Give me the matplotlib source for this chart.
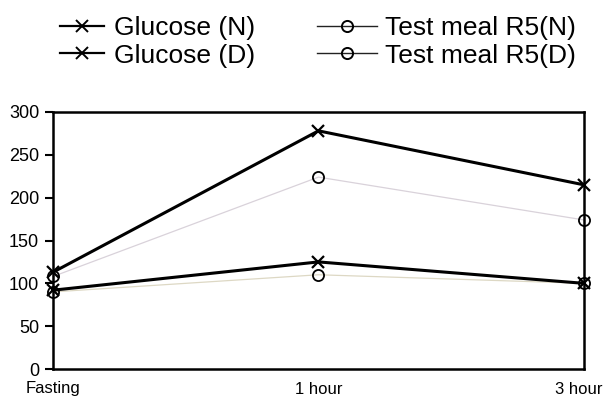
import matplotlib
matplotlib.use("Agg")
import matplotlib.pyplot as plt
from matplotlib.lines import Line2D
from matplotlib.transforms import offset_copy

plt.rcParams['font.family'] = ['Liberation Sans', 'DejaVu Sans']

categories = ["Fasting", "1 hour", "3 hour"]
glucose_n = [92, 125, 100]
glucose_d = [113, 278, 215]
meal_n = [90, 110, 100]
meal_d = [108, 224, 174]
yticks = [0, 50, 100, 150, 200, 250, 300]

fig = plt.figure(figsize=(6.06, 4.0), dpi=100)
ax = fig.add_axes([0.0875, 0.0775, 0.876, 0.6425])
x = list(range(len(categories)))

ax.plot(x, meal_n, color='#ddd8c4', lw=0.9, marker='o', mfc='none', mec='black',
        ms=8, mew=1.3, clip_on=False, zorder=2)
ax.plot(x, meal_d, color='#d9d2da', lw=0.9, marker='o', mfc='none', mec='black',
        ms=8, mew=1.3, clip_on=False, zorder=2)
ax.plot(x, glucose_n, color='black', lw=2.2, marker='x', ms=8, mew=1.6,
        clip_on=False, zorder=3)
ax.plot(x, glucose_d, color='black', lw=2.2, marker='x', ms=8, mew=1.6,
        clip_on=False, zorder=3)

ax.set_xlim(0, 2)
ax.set_ylim(0, 300)
ax.set_xticks(x)
ax.set_xticklabels(categories, fontsize=12)
ax.tick_params(axis='x', length=0, pad=9)
last = ax.get_xticklabels()[-1]
last.set_transform(offset_copy(last.get_transform(), fig=fig, x=-5, y=0, units='dots'))
ax.set_yticks(yticks)
ax.set_yticklabels([str(v) for v in yticks], fontsize=13)
ax.tick_params(axis='y', length=6, width=1.5, pad=4)
for s in ax.spines.values():
    s.set_linewidth(1.8)

h_g = [Line2D([], [], color='black', lw=1.6, marker='x', ms=8, mew=1.4) for _ in range(2)]
h_m = [Line2D([], [], color='#222222', lw=1.0, marker='o', mfc='none', mec='black', ms=8, mew=1.4)
       for _ in range(2)]
fig.legend(h_g, ["Glucose (N)", "Glucose (D)"], frameon=False, fontsize=19,
           loc='upper left', bbox_to_anchor=(0.060, 1.02), handlelength=1.65,
           handletextpad=0.4, labelspacing=0.15)
fig.legend(h_m, ["Test meal R5(N)", "Test meal R5(D)"], frameon=False, fontsize=19,
           loc='upper left', bbox_to_anchor=(0.4835, 1.02), handlelength=2.3,
           handletextpad=0.3, labelspacing=0.15)

fig.savefig("out.png", dpi=100)
